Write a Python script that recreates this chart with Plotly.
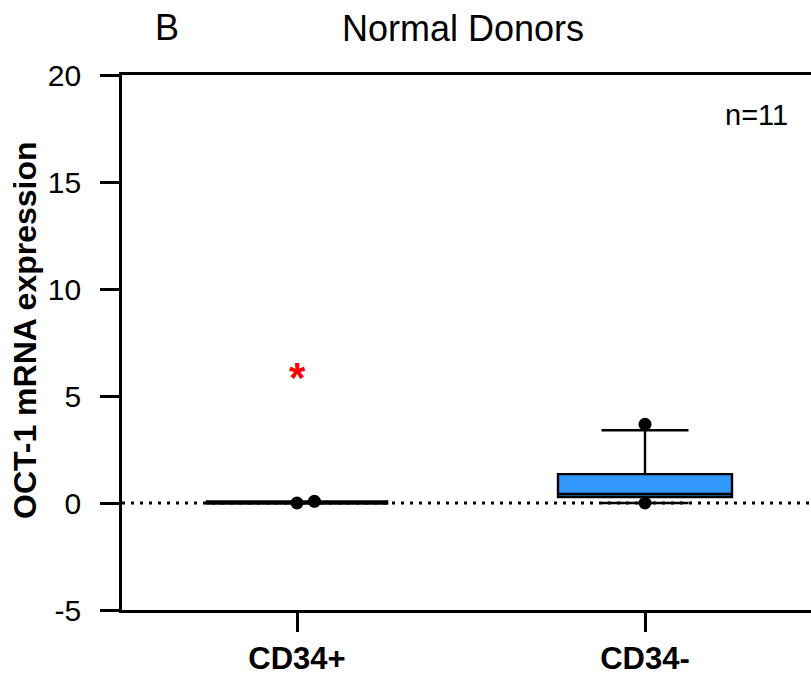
import plotly.graph_objects as go

# Groups on the category axis
categories = ["CD34+", "CD34-"]
cat_pos = [0, 1]

# Box summary statistics (OCT-1 mRNA expression)
q1 = [0.0, 0.28]
median = [0.02, 0.42]
q3 = [0.05, 1.35]
lower_fence = [0.0, 0.0]
upper_fence = [0.05, 3.4]

# Individual points drawn over the boxes
pts_group = [0, 0, 1, 1]
pts_jitter = [0.0, 0.05, 0.0, 0.0]
pts_value = [0.0, 0.08, 3.68, 0.0]

# Flagged value (red asterisk)
flag_group = [0]
flag_value = [6.1]

y_ticks = [-5, 0, 5, 10, 15, 20]
y_ticktext = ["-5", "0", "5", "10", "15", "20"]

FONT = "Arial, Liberation Sans, sans-serif"
BLUE = "#3399FF"

fig = go.Figure()

box_widths = [0.515, 0.5]
box_fills = ["white", BLUE]
box_lines = [3.4, 2.4]
for i in range(len(categories)):
    fig.add_trace(go.Box(
        x=[cat_pos[i]],
        q1=[q1[i]], median=[median[i]], q3=[q3[i]],
        lowerfence=[lower_fence[i]], upperfence=[upper_fence[i]],
        width=box_widths[i],
        whiskerwidth=0.5,
        fillcolor=box_fills[i],
        line=dict(color="black", width=box_lines[i]),
        boxpoints=False,
        showlegend=False,
        hoverinfo="skip",
    ))

fig.add_trace(go.Scatter(
    x=[g + j for g, j in zip(pts_group, pts_jitter)],
    y=pts_value,
    mode="markers",
    marker=dict(color="black", size=13),
    showlegend=False,
    hoverinfo="skip",
))

# dotted zero reference line
fig.add_shape(type="line", xref="paper", yref="y", x0=0, x1=1, y0=0, y1=0,
              line=dict(color="black", width=3, dash="3px,6px"), layer="below")

annotations = [
    dict(text="Normal Donors", xref="paper", yref="paper",
         x=(463 - 122) / 689, y=(610 - 28) / 535, xanchor="center", yanchor="middle",
         showarrow=False, font=dict(family=FONT, size=36)),
    dict(text="B", xref="paper", yref="paper",
         x=(167 - 122) / 689, y=(610 - 27) / 535, xanchor="center", yanchor="middle",
         showarrow=False, font=dict(family=FONT, size=36)),
    dict(text="n=11", xref="paper", yref="paper",
         x=(756 - 122) / 689, y=(610 - 115) / 535, xanchor="center", yanchor="middle",
         showarrow=False, font=dict(family=FONT, size=29)),
    dict(text="OCT-1 mRNA expression", xref="paper", yref="paper",
         x=(25 - 122) / 689, y=(610 - 330) / 535, xanchor="center", yanchor="middle",
         textangle=-90, showarrow=False,
         font=dict(family=FONT, size=32, weight="bold")),
]
# red asterisk marking the flagged value
for g, v in zip(flag_group, flag_value):
    annotations.append(dict(
        text="*", x=cat_pos[g], y=v, xref="x", yref="y",
        xanchor="center", yanchor="middle", yshift=-5, showarrow=False,
        font=dict(family=FONT, size=42, color="red", weight="bold"),
    ))

fig.update_layout(
    width=811, height=681,
    margin=dict(l=122, r=0, t=75, b=71),
    paper_bgcolor="white", plot_bgcolor="white",
    font=dict(family=FONT, color="black"),
    xaxis=dict(
        range=[-0.5029, 1.477],
        tickvals=cat_pos, ticktext=categories,
        ticks="outside", ticklen=19, tickwidth=2.5, tickcolor="black",
        showline=True, linewidth=2.8, linecolor="black", mirror=True,
        showgrid=False, zeroline=False,
        tickfont=dict(family=FONT, size=31, color="black", weight="bold"),
    ),
    yaxis=dict(
        range=[-5, 20],
        tickvals=y_ticks, ticktext=y_ticktext,
        ticks="outside", ticklen=19, tickwidth=2.5, tickcolor="black",
        showline=True, linewidth=2.8, linecolor="black",
        showgrid=False, zeroline=False,
        ticklabelstandoff=13,
        tickfont=dict(family=FONT, size=30, color="black"),
    ),
    annotations=annotations,
)

fig.write_html("out.html")
